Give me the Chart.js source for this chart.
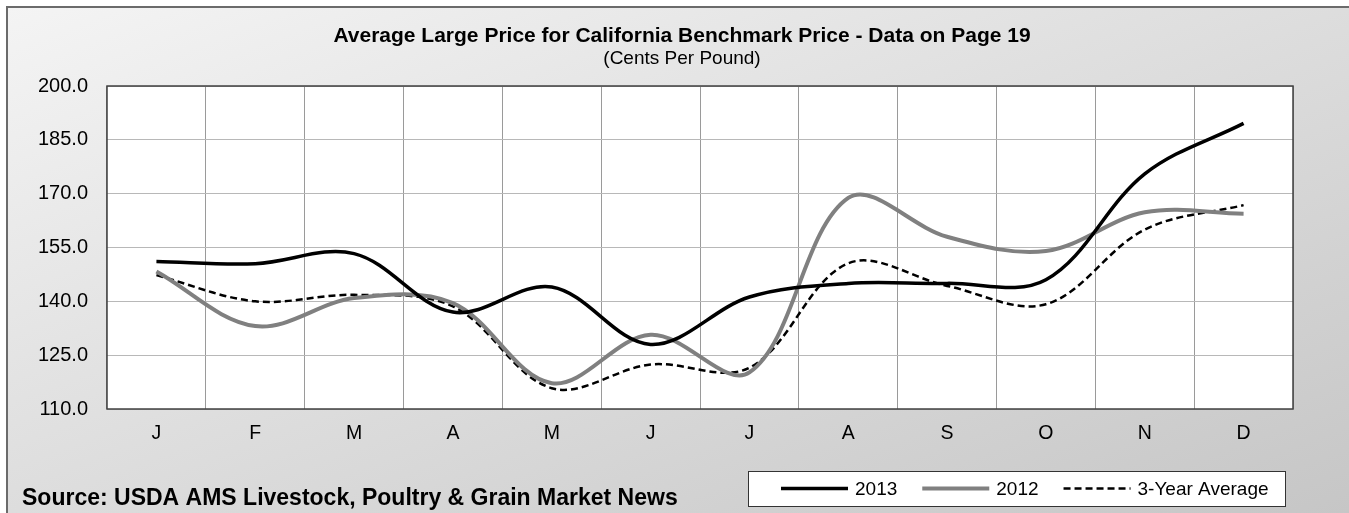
<!DOCTYPE html>
<html>
<head>
<meta charset="utf-8">
<script src="https://cdn.jsdelivr.net/npm/chart.js@4.4.1/dist/chart.umd.min.js"></script>
<style>
html, body { margin: 0; padding: 0; background: #fff; }
</style>
</head>
<body>
<canvas id="priceChart" width="1349" height="513"></canvas>
<script>
// values (cents per pound)
var months = ['J', 'F', 'M', 'A', 'M', 'J', 'J', 'A', 'S', 'O', 'N', 'D'];
var price2013 = [151.1, 150.5, 153.3, 137.0, 144.0, 128.0, 141.2, 145.0, 145.0, 146.0, 175.5, 189.6];
var price2012 = [148.3, 133.1, 140.9, 139.5, 117.2, 130.7, 120.2, 168.8, 158.0, 154.0, 164.8, 164.4];
var priceAvg = [147.3, 140.0, 141.8, 138.6, 115.8, 122.4, 121.5, 150.6, 144.3, 139.2, 160.0, 166.8];
var yMin = 110, yMax = 200, yStep = 15;

var titleText = 'Average Large Price for California Benchmark Price - Data on Page 19';
var subtitleText = '(Cents Per Pound)';
var sourceText = 'Source: USDA AMS Livestock, Poultry & Grain Market News';

var FONT = '"Liberation Sans", Arial, Helvetica, sans-serif';

Chart.defaults.font.family = FONT;
Chart.defaults.color = '#000';

var framePlugin = {
    id: 'frame',

    beforeDraw: function (chart)
    {
        var ctx = chart.ctx, w = chart.width, h = chart.height, a = chart.chartArea;
        ctx.save();
        ctx.fillStyle = '#fff';
        ctx.fillRect(0, 0, w, h);

        // diagonal gradient, same shade along the top-right / bottom-left diagonal
        var W = w - 7, H = h - 7;
        var k = 2 * W * H / (W * W + H * H);
        var g = ctx.createLinearGradient(7, 7, 7 + k * H, 7 + k * W);
        g.addColorStop(0, '#f4f4f4');
        g.addColorStop(1, '#c6c6c6');
        ctx.fillStyle = g;
        ctx.fillRect(7, 7, W, H);

        ctx.strokeStyle = '#6b6b6b';
        ctx.lineWidth = 2;
        ctx.beginPath();
        ctx.moveTo(7, h);
        ctx.lineTo(7, 7);
        ctx.lineTo(w, 7);
        ctx.stroke();

        ctx.fillStyle = '#fff';
        ctx.fillRect(a.left, a.top, a.right - a.left, a.bottom - a.top);

        ctx.fillStyle = '#000';
        ctx.textAlign = 'center';
        ctx.textBaseline = 'middle';
        ctx.font = 'bold 21px ' + FONT;
        ctx.fillText(titleText, 682, 36);
        ctx.font = '19px ' + FONT;
        ctx.fillText(subtitleText, 682, 59);
        ctx.restore();
    },

    beforeDatasetsDraw: function (chart)
    {
        var ctx = chart.ctx, a = chart.chartArea;
        ctx.save();
        ctx.strokeStyle = '#404040';
        ctx.lineWidth = 1.5;
        ctx.strokeRect(a.left, a.top, a.right - a.left, a.bottom - a.top);
        ctx.restore();
    },

    afterDraw: function (chart)
    {
        var ctx = chart.ctx;
        ctx.save();

        // legend box
        var bx = 748, by = 471, bw = 537, bh = 35;
        ctx.fillStyle = '#fff';
        ctx.fillRect(bx, by, bw, bh);
        ctx.strokeStyle = '#333';
        ctx.lineWidth = 1;
        ctx.strokeRect(bx + 0.5, by + 0.5, bw, bh);

        ctx.font = '19px ' + FONT;
        ctx.textBaseline = 'middle';
        ctx.textAlign = 'left';
        var x = bx + 33, cy = by + bh / 2;
        chart.data.datasets.forEach(function (ds)
        {
            ctx.strokeStyle = ds.borderColor;
            ctx.lineWidth = ds.borderWidth;
            ctx.setLineDash(ds.borderDash || []);
            ctx.beginPath();
            ctx.moveTo(x, cy);
            ctx.lineTo(x + 67, cy);
            ctx.stroke();
            ctx.setLineDash([]);
            ctx.fillStyle = '#000';
            ctx.fillText(ds.label, x + 74, cy + 1);
            x += 74 + ctx.measureText(ds.label).width + 25;
        });

        ctx.font = 'bold 23px ' + FONT;
        ctx.textBaseline = 'alphabetic';
        ctx.fillText(sourceText, 22, 505);
        ctx.restore();
    }
};

var ctx = document.getElementById('priceChart').getContext('2d');

var priceChart = new Chart(ctx, {
    type: 'line',
    data: {
        labels: months,
        datasets: [
            {
                label: '2013',
                data: price2013,
                borderColor: '#000000',
                borderWidth: 3.5,
                tension: 0.35,
                pointRadius: 0
            },
            {
                label: '2012',
                data: price2012,
                borderColor: '#808080',
                borderWidth: 4,
                tension: 0.35,
                pointRadius: 0
            },
            {
                label: '3-Year Average',
                data: priceAvg,
                borderColor: '#000000',
                borderWidth: 2.5,
                borderDash: [7, 4],
                tension: 0.35,
                pointRadius: 0
            }
        ]
    },
    options: {
        responsive: false,
        animation: false,
        layout: {
            padding: { left: 0, top: 86, right: 56, bottom: 67 }
        },
        plugins: {
            legend: { display: false },
            title: { display: false },
            tooltip: { enabled: false }
        },
        scales: {
            x: {
                offset: true,
                grid: { offset: true, color: '#9a9a9a', lineWidth: 1, drawTicks: false },
                border: { display: false },
                ticks: { padding: 13, font: { size: 19.5 } },
                afterFit: function (scale) { scale.height = 37; }
            },
            y: {
                min: yMin,
                max: yMax,
                grid: { color: '#b8b8b8', lineWidth: 1, drawTicks: false },
                border: { display: false },
                ticks: {
                    stepSize: yStep,
                    padding: 19,
                    font: { size: 20 },
                    callback: function (v) { return v.toFixed(1); }
                },
                afterFit: function (scale) { scale.width = 107; }
            }
        }
    },
    plugins: [framePlugin]
});
</script>
</body>
</html>
